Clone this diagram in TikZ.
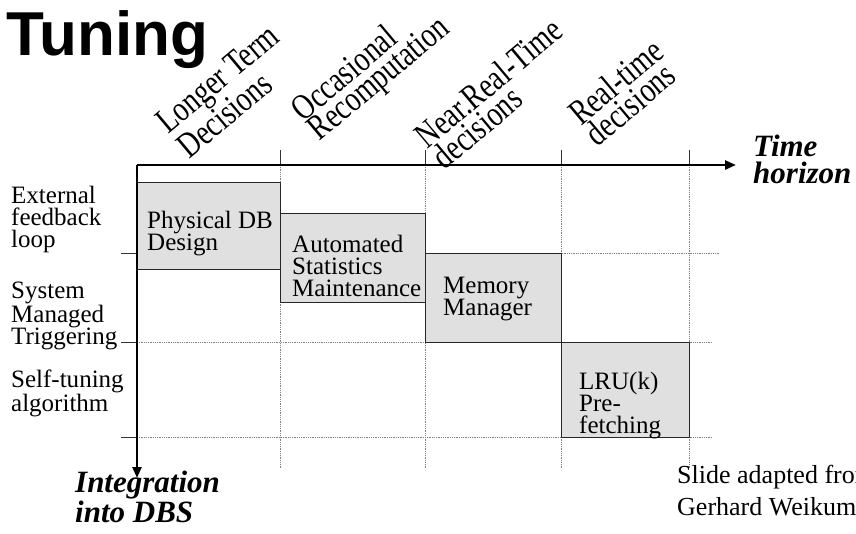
\documentclass[tikz,border=0pt]{standalone}
\usepackage{fontspec}
\setmainfont{Liberation Serif}
\newfontfamily\titlefont{Liberation Sans}
\usetikzlibrary{arrows.meta}
\definecolor{cellgray}{HTML}{E0E0E0}
\tikzset{
  axis/.style={line width=2.4pt, -{Triangle[length=11pt,width=9pt]}},
  gridline/.style={densely dotted, gray, line width=.8pt},
  tickline/.style={line width=.9pt, black!80},
  cell/.style={fill=cellgray, draw=black!85, line width=.9pt},
  celltext/.style={anchor=base west, inner sep=0pt, align=left, font=\fontsize{25}{22}\selectfont},
  horizon/.style={rotate=40, xscale=.78, inner sep=0pt, align=left, font=\fontsize{36}{21}\selectfont},
  axislabel/.style={anchor=base west, inner sep=0pt, align=left, font=\fontsize{31}{27}\selectfont\bfseries\itshape}
}
\begin{document}
\begin{tikzpicture}[x=1pt,y=-1pt,line join=round]
  \useasboundingbox (0,0) rectangle (856,533);
  \coordinate (o) at (137,165);
  \coordinate (tend) at (736,165);
  \coordinate (iend) at (137,478);

  % grid behind the cells
  \foreach \gx in {280,425,561,689}
    \draw[gridline] (\gx,165) -- (\gx,468);
  \draw[gridline] (137,253) -- (720,253)
    (137,342) -- (713,342)
    (137,437) -- (713,437);
  \foreach \gx in {280,425,561,689}
    \draw[tickline] (\gx,150) -- (\gx,165);
  \draw[tickline] (121,253) -- (137,253)
    (121,342) -- (137,342)
    (121,437) -- (137,437);

  % cells
  \draw[cell] (137,182) rectangle (280,269);
  \draw[cell] (280,213) rectangle (425,302);
  \draw[cell] (425,253) rectangle (561,342);
  \draw[cell] (561,342) rectangle (689,437);

  % base = baseline of the last line
  \node[celltext] (phys) at (147,250) {Physical DB\\Design};
  \node[celltext] (stats) at (292,296) {Automated\\Statistics\\Maintenance};
  \node[celltext] (mem) at (443,315) {Memory\\Manager};
  \node[celltext] (lru) at (579,433) {LRU(k)\\Pre-\\fetching};

  % axes
  \draw[axis] (o) -- (tend);
  \draw[axis] (o) -- (iend);

  % row labels
  \node[celltext] (ext) at (11,247) {External\\feedback\\loop};
  \node[celltext] (sys) at (11,344) {System\\Managed\\Triggering};
  \node[celltext] (self) at (11,411) {Self-tuning\\algorithm};

  % column labels
  \node[horizon] (longer) at (228,91) {Longer Term\\Decisions};
  \node[horizon] (occ) at (372,70) {Occasional\\Recomputation};
  \node[horizon] (near) at (497,93) {Near.Real-Time\\decisions};
  \node[horizon] (real) at (624,92) {Real-time\\decisions};

  \node[axislabel] (time) at (753,183) {Time\\horizon};
  \node[axislabel] (integ) at (75,522) {Integration\\into DBS};

  \node[anchor=base west, inner sep=0pt, font=\titlefont\fontsize{62}{62}\selectfont\bfseries] (title) at (6,55) {Tuning};
  \node[anchor=base west, inner sep=0pt, align=left, font=\fontsize{26}{32}\selectfont] (credit) at (677,515) {Slide adapted from\\Gerhard Weikum};
\end{tikzpicture}
\end{document}
